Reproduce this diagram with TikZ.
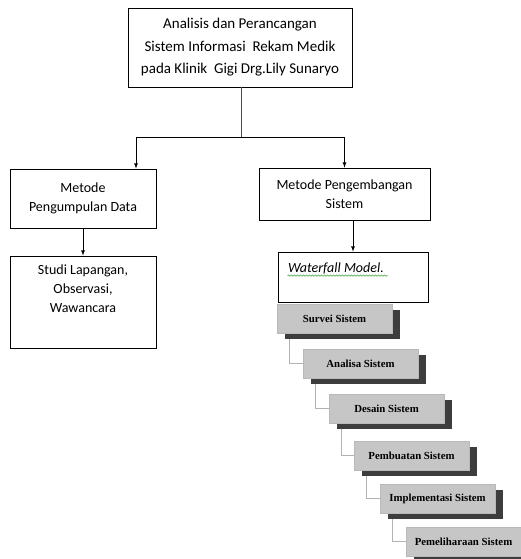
\documentclass[tikz,border=0pt]{standalone}
\usepackage{fontspec}
\setmainfont{Carlito}
\newfontfamily\tnr{Liberation Serif}
\usetikzlibrary{shadows,decorations.pathmorphing}

\tikzset{
    kotak/.style={draw, line width=0.8pt, inner sep=0pt, align=center,
        font=\fontsize{14}{18.5}\selectfont},
    tahap/.style={draw=gray!55, fill=gray!45, line width=0.8pt, inner sep=0pt,
        minimum width=115pt, minimum height=29pt,
        font=\tnr\bfseries\fontsize{10.8}{12}\selectfont,
        general shadow={fill=black!76, shadow xshift=8pt, shadow yshift=-6pt}},
    garis/.style={line width=0.8pt},
    sambung/.style={draw=gray!60, line width=0.8pt}
}

\begin{document}
\begin{tikzpicture}[x=1pt,y=-1pt,>=latex]

        \useasboundingbox (0,0) rectangle (521,559);

        % ============================================
        % JUDUL
        % ============================================

        \node[kotak, minimum width=224pt, minimum height=79pt,
              font=\fontsize{15}{22.5}\selectfont] (judul) at (240,47.5)
            {Analisis dan Perancangan\\
             Sistem Informasi\ \ Rekam Medik\\
             pada Klinik\ \ Gigi Drg.Lily Sunaryo};

        % ============================================
        % METODE
        % ============================================

        \node[kotak, minimum width=146pt, minimum height=59pt] (metode1) at (83,198.5)
            {\raisebox{2pt}{\parbox{140pt}{\centering Metode\\ Pengumpulan Data}}};
        \node[kotak, minimum width=171pt, minimum height=52pt] (metode2) at (344.5,194)
            {Metode Pengembangan\\ Sistem};

        \node[kotak, minimum width=146pt, minimum height=92pt] (studi) at (83,302)
            {\parbox[t][75pt][t]{140pt}{\centering\fontsize{14}{19}\selectfont
             Studi Lapangan,\\ Observasi,\\ Wawancara}};

        \node[kotak, minimum width=150pt, minimum height=50pt] (waterfall) at (353,277)
            {\parbox[t][29pt][t]{130pt}{\raggedright\itshape Waterfall Model.}};

        % spelling squiggle
        \draw[green!55!black, line width=0.4pt, decorate,
              decoration={snake, amplitude=0.7pt, segment length=3pt}]
            ([shift={(10,24)}]waterfall.north west) -- ++(100,0);

        % Arrows
        \coordinate (cabang) at (241,137);
        \draw[garis, draw=black!70] (judul.south -| cabang) -- (cabang);
        \draw[garis,->] (cabang) -| ([xshift=53pt]metode1.north);
        \draw[garis,->] (cabang) -| (metode2.north);
        \draw[garis,->] (metode1.south) -- (studi.north);
        \draw[garis,->] (waterfall.north |- metode2.south) -- (waterfall.north);

        % ============================================
        % TAHAP WATERFALL
        % ============================================

        \node[tahap] (s1) at (334.5,318.5) {Survei Sistem};
        \node[tahap] (s2) at (360.5,363.5) {Analisa Sistem};
        \node[tahap] (s3) at (386.5,408.5) {Desain Sistem};
        \node[tahap] (s4) at (411.5,455.5) {Pembuatan Sistem};
        \node[tahap] (s5) at (437.5,498.5) {Implementasi Sistem};
        \node[tahap] (s6) at (463.5,541.5) {Pemeliharaan Sistem};

        % connectors
        \draw[sambung] ([shift={(13,6)}]s1.south west) |- (s2.west);
        \draw[sambung] ([shift={(13,6)}]s2.south west) |- (s3.west);
        \draw[sambung] ([shift={(13,6)}]s3.south west) |- (s4.west);
        \draw[sambung] ([shift={(13,6)}]s4.south west) |- (s5.west);
        \draw[sambung] ([shift={(13,6)}]s5.south west) |- (s6.west);

\end{tikzpicture}
\end{document}
